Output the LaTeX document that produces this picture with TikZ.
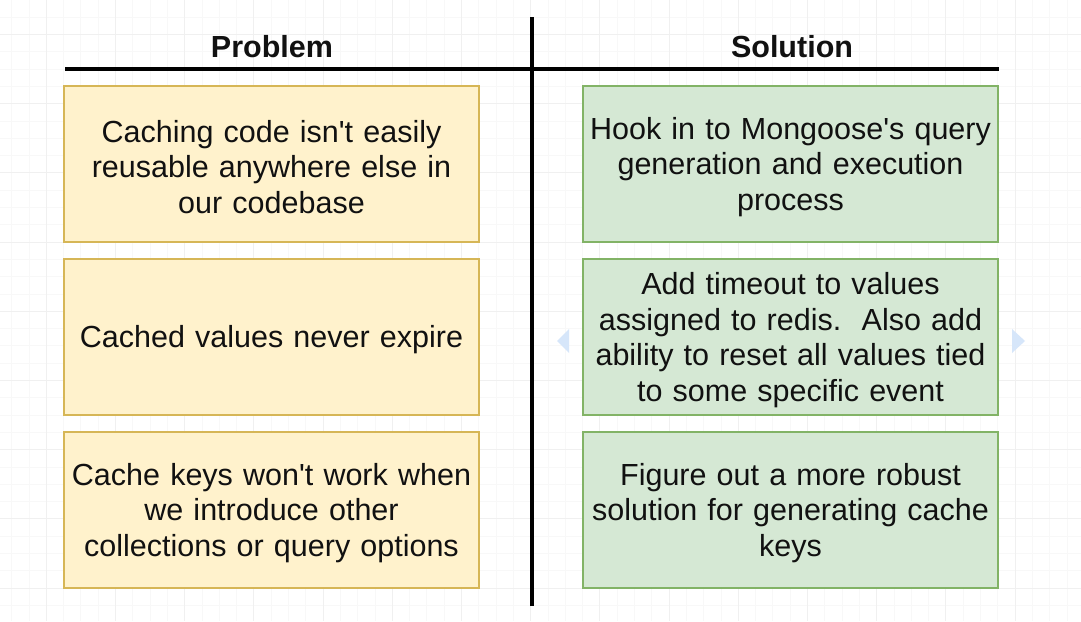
\documentclass[tikz,border=0pt]{standalone}
\usepackage{fontspec}
\setmainfont{Liberation Sans}[Ligatures=TeXOff]
\definecolor{probfill}{HTML}{FFF2CC}
\definecolor{probline}{HTML}{D6B656}
\definecolor{solfill}{HTML}{D5E8D4}
\definecolor{solline}{HTML}{82B366}
\definecolor{gridminor}{HTML}{F8F8F8}
\definecolor{gridmajor}{HTML}{F0F0F0}
\definecolor{hoverblue}{HTML}{D6E6FA}
\definecolor{inkblack}{HTML}{111111}
\begin{document}
\begin{tikzpicture}[x=1pt,y=-1pt,
  cardbase/.style={line width=2pt, minimum width=415pt, minimum height=156pt, inner sep=0pt},
  probbox/.style={cardbase, draw=probline, fill=probfill},
  solbox/.style={cardbase, draw=solline, fill=solfill},
  cardtext/.style={inner sep=0pt, align=center, text width=410pt, text=inkblack,
    font=\fontsize{30.5}{35.5}\selectfont},
  headtext/.style={font=\bfseries\fontsize{30.5}{36}\selectfont, text=inkblack, inner sep=0pt, anchor=base},
  divider/.style={line width=4pt, draw=black},
  minorgrid/.style={draw=gridminor, line width=0.7pt},
  majorgrid/.style={draw=gridmajor, line width=0.7pt},
  hover/.style={fill=hoverblue, draw=none}]
\useasboundingbox (0,0) rectangle (1081,621);
\fill[white] (0,0) rectangle (1081,621);
% grid
\foreach \k in {0,...,62} \draw[minorgrid] ({11.6+17.3*\k},0) -- ({11.6+17.3*\k},621);
\foreach \k in {0,...,35} \draw[minorgrid] (0,{17.1+17.3*\k}) -- (1081,{17.1+17.3*\k});
\foreach \k in {0,...,15} \draw[majorgrid] ({46.2+69.2*\k},0) -- ({46.2+69.2*\k},621);
\foreach \k in {0,...,8} \draw[majorgrid] (0,{34.4+69.2*\k}) -- (1081,{34.4+69.2*\k});
% headers
\node[headtext] (probhead) at (272,57) {Problem};
\node[headtext] (solhead) at (792,57) {Solution};
% dividers
\coordinate (hl) at (65,69);
\coordinate (hr) at (999,69);
\coordinate (vt) at (532,17);
\coordinate (vb) at (532,606);
\draw[divider] (hl) -- (hr);
\draw[divider] (vt) -- (vb);
% problem boxes
\node[probbox] (p1) at (271.5,164) {};
\node[probbox] (p2) at (271.5,337) {};
\node[probbox] (p3) at (271.5,510) {};
% solution boxes
\node[solbox] (s1) at (790.5,164) {};
\node[solbox] (s2) at (790.5,337) {};
\node[solbox] (s3) at (790.5,510) {};
% texts
\node[cardtext] (p1t) at ([yshift=-3pt]p1.center) {Caching code isn't easily\\reusable anywhere else in\\our codebase};
\node[cardtext] (p2t) at ([yshift=-3pt]p2.center) {Cached values never expire};
\node[cardtext] (p3t) at ([yshift=-3pt]p3.center) {Cache keys won't work when\\we introduce other\\collections or query options};
\node[cardtext] (s1t) at ([yshift=-3pt]s1.center) {Hook in to Mongoose's query\\generation and execution\\process};
\node[cardtext] (s2t) at ([yshift=-3pt]s2.center) {Add timeout to values\\assigned to redis.\ \ Also add\\ability to reset all values tied\\to some specific event};
\node[cardtext] (s3t) at ([yshift=-3pt]s3.center) {Figure out a more robust\\solution for generating cache\\keys};
% hover arrows
\fill[hover] (569,329) -- (557,341) -- (569,353) -- cycle;
\fill[hover] (1012,329) -- (1025,341) -- (1012,353) -- cycle;
\end{tikzpicture}
\end{document}
